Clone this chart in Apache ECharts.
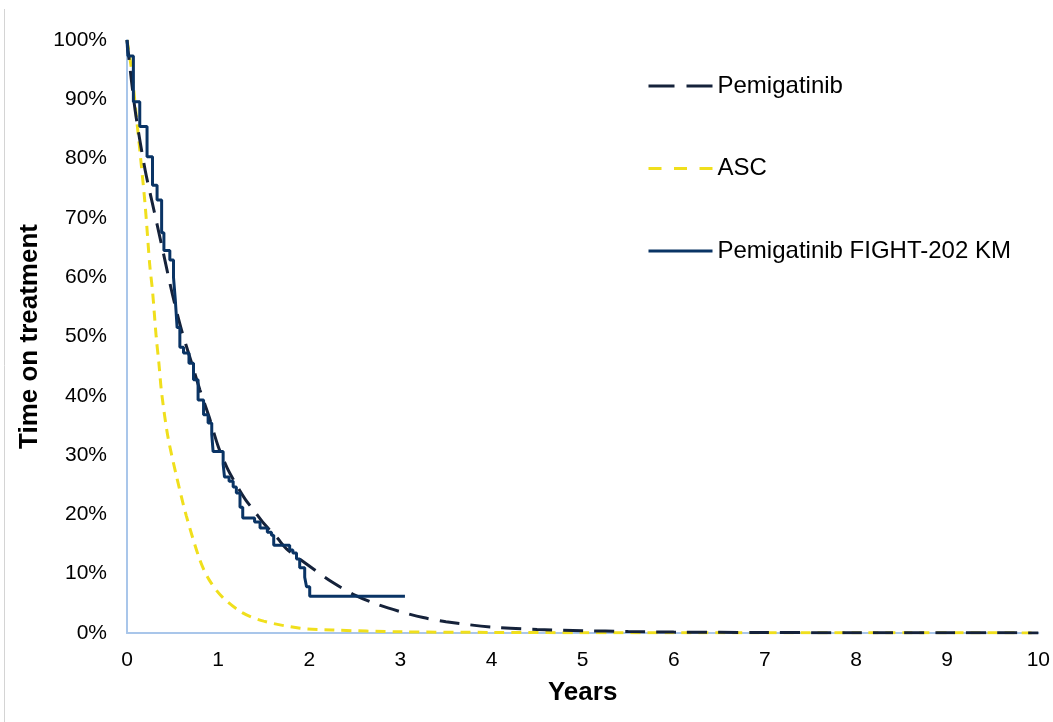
<!DOCTYPE html>
<html>
<head>
<meta charset="utf-8">
<title>Time on treatment</title>
<script src="https://cdn.jsdelivr.net/npm/echarts@6/dist/echarts.min.js"></script>
<style>
  html, body { margin: 0; padding: 0; background: #ffffff; }
  #chart { width: 1053px; height: 722px; }
</style>
</head>
<body>
<div id="chart"></div>
<script>
// Fitted Pemigatinib curve (years, % on treatment)
const pemYears  = [0, 0.05, 0.1, 0.2, 0.3, 0.4, 0.5, 0.6, 0.7, 0.8, 0.9, 1.0, 1.1, 1.2, 1.3, 1.4, 1.5, 1.65, 1.75, 2.0, 2.25, 2.5, 2.75, 3.0, 3.25, 3.5, 4.0, 4.5, 5.0, 5.5, 6.0, 7.0, 8.0, 9.0, 10.0];
const pemValues = [100, 93, 87, 78, 71, 64, 57, 51, 46, 41, 36.5, 31.5, 27.8, 25, 22.5, 20.5, 18.5, 16, 14.2, 11.3, 8.6, 6.4, 4.8, 3.6, 2.6, 1.9, 1.0, 0.6, 0.4, 0.25, 0.15, 0.08, 0.05, 0.03, 0.02];

// Active symptom control curve
const ascYears  = [0, 0.05, 0.1, 0.15, 0.2, 0.25, 0.28, 0.32, 0.35, 0.38, 0.45, 0.55, 0.65, 0.8, 0.9, 1.05, 1.27, 1.5, 1.9, 2.25, 3.0, 4.0, 5.0, 6.0, 8.0, 10.0];
const ascValues = [100, 95, 87.5, 80, 72, 62, 57.7, 50, 45.5, 40.5, 33, 26, 19.8, 12.3, 9, 6, 3.4, 2, 0.8, 0.5, 0.2, 0.1, 0.05, 0.04, 0.03, 0.02];

// FIGHT-202 Kaplan-Meier steps: value drops to kmValues[i] at kmYears[i]
const kmYears  = [0, 0.01, 0.07, 0.14, 0.22, 0.28, 0.33, 0.38, 0.405, 0.47, 0.51, 0.53, 0.55, 0.58, 0.62, 0.68, 0.73, 0.78, 0.84, 0.89, 0.93, 0.945, 1.055, 1.07, 1.12, 1.165, 1.2, 1.24, 1.27, 1.40, 1.46, 1.54, 1.585, 1.61, 1.785, 1.82, 1.86, 1.895, 1.95, 1.97, 2.005, 3.05];
const kmValues = [100, 97.3, 89.6, 85.4, 80.3, 75.5, 73, 67.5, 64.5, 62.9, 60, 56.2, 51.5, 48.2, 47.2, 45.5, 42.7, 39.3, 36.8, 35.4, 33.5, 30.6, 28.5, 26.3, 25.6, 24.6, 23.6, 21.2, 19.4, 18.7, 17.7, 17.0, 16.5, 14.8, 14.0, 13.5, 12.5, 11.0, 9.4, 7.8, 6.2, 6.2];

// Axis ticks
const xTicks = [0, 1, 2, 3, 4, 5, 6, 7, 8, 9, 10];
const yTicks = [0, 10, 20, 30, 40, 50, 60, 70, 80, 90, 100];

const zip = (xs, ys) => xs.map((x, i) => [x, ys[i]]);

const FONT = "'Liberation Sans', Arial, sans-serif";
const AXIS_BLUE = '#a9c6ea';
const PEM_COLOR = '#15223a';
const ASC_COLOR = '#f0df1c';
const KM_COLOR = '#0a3465';

const chart = echarts.init(document.getElementById('chart'), null, { renderer: 'canvas' });

// legend entries draw only their line, no marker
const hiddenMarker = { opacity: 0, color: 'transparent', borderWidth: 0 };

chart.setOption({
  animation: false,
  backgroundColor: '#ffffff',
  textStyle: { fontFamily: FONT },
  grid: { left: 127, right: 13, top: 40, bottom: 89, containLabel: false },
  legend: {
    orient: 'vertical',
    left: 642,
    top: 69,
    itemWidth: 64,
    itemHeight: 24,
    itemGap: 58.5,
    textStyle: { fontFamily: FONT, fontSize: 24, lineHeight: 24, color: '#000000' },
    data: [
      { name: 'Pemigatinib', itemStyle: hiddenMarker, lineStyle: { type: [26, 12], width: 3 } },
      { name: 'ASC', itemStyle: hiddenMarker, lineStyle: { type: [13, 12.5], width: 3 } },
      { name: 'Pemigatinib FIGHT-202 KM', itemStyle: hiddenMarker, lineStyle: { type: 'solid', width: 3 } }
    ]
  },
  xAxis: {
    type: 'value',
    min: xTicks[0],
    max: xTicks[xTicks.length - 1],
    interval: 1,
    name: 'Years',
    nameLocation: 'middle',
    nameGap: 47,
    nameTextStyle: { fontFamily: FONT, fontSize: 26, fontWeight: 'bold', color: '#000000' },
    axisLine: { show: true, lineStyle: { color: AXIS_BLUE, width: 2 } },
    axisTick: { show: false },
    splitLine: { show: false },
    axisLabel: { fontFamily: FONT, fontSize: 21, color: '#000000', margin: 17 }
  },
  yAxis: {
    type: 'value',
    min: yTicks[0],
    max: yTicks[yTicks.length - 1],
    interval: 10,
    name: 'Time on treatment',
    nameLocation: 'middle',
    nameRotate: 90,
    nameGap: 83,
    nameTextStyle: { fontFamily: FONT, fontSize: 26, fontWeight: 'bold', color: '#000000' },
    axisLine: { show: true, lineStyle: { color: AXIS_BLUE, width: 2 } },
    axisTick: { show: false },
    splitLine: { show: false },
    axisLabel: { fontFamily: FONT, fontSize: 21, color: '#000000', margin: 20, formatter: '{value}%' }
  },
  series: [
    {
      name: 'Pemigatinib',
      type: 'line',
      data: zip(pemYears, pemValues),
      showSymbol: false,
      symbol: 'none',
      smooth: 0.3,
      z: 3,
      lineStyle: { color: PEM_COLOR, width: 3, type: [20, 11] },
      itemStyle: { color: PEM_COLOR }
    },
    {
      name: 'ASC',
      type: 'line',
      data: zip(ascYears, ascValues),
      showSymbol: false,
      symbol: 'none',
      smooth: 0.3,
      z: 2,
      lineStyle: { color: ASC_COLOR, width: 3, type: [10, 7] },
      itemStyle: { color: ASC_COLOR }
    },
    {
      name: 'Pemigatinib FIGHT-202 KM',
      type: 'line',
      data: zip(kmYears, kmValues),
      step: 'end',
      showSymbol: false,
      symbol: 'none',
      z: 4,
      lineStyle: { color: KM_COLOR, width: 3 },
      itemStyle: { color: KM_COLOR }
    }
  ],
  graphic: [
    {
      type: 'line',
      shape: { x1: 4.5, y1: 9, x2: 4.5, y2: 722 },
      style: { stroke: '#d4d4d4', lineWidth: 1 },
      silent: true
    }
  ]
});
</script>
</body>
</html>
